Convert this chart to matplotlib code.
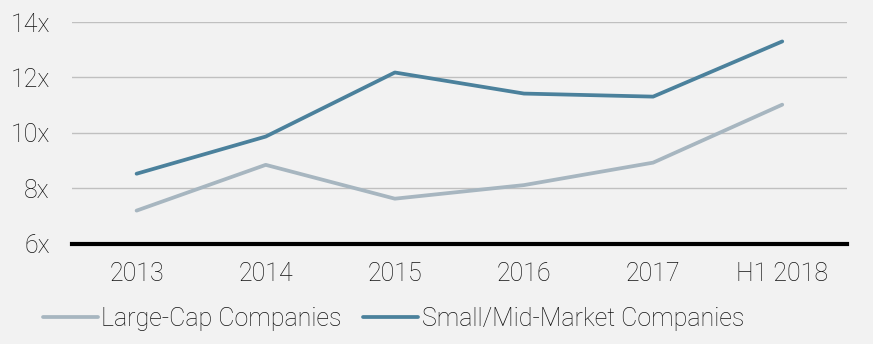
import matplotlib
matplotlib.use("Agg")
import matplotlib.pyplot as plt

# data
years = ["2013", "2014", "2015", "2016", "2017", "H1 2018"]
large_cap = [7.2, 8.85, 7.63, 8.12, 8.93, 11.02]
small_mid = [8.53, 9.87, 12.18, 11.42, 11.31, 13.3]
y_ticks = [6, 8, 10, 12, 14]

BG = "#f2f2f2"
FS = 18
plt.rcParams["font.family"] = ["Roboto", "DejaVu Sans"]

fig = plt.figure(figsize=(8.73, 3.44), dpi=100, facecolor=BG)
ax = fig.add_axes([0.0825, 0.291, 0.8875, 0.645], facecolor=BG)

x = range(len(years))
ax.plot(x, large_cap, color="#a7b6c0", lw=2.7, solid_capstyle="round",
        label="Large-Cap Companies", zorder=3)
ax.plot(x, small_mid, color="#4b819c", lw=2.7, solid_capstyle="round",
        label="Small/Mid-Market Companies", zorder=3)

ax.set_xlim(-0.5, len(years) - 0.5)
ax.set_ylim(6, 14)
ax.set_yticks(y_ticks)
ax.set_yticklabels([f"{v}x" for v in y_ticks])
ax.set_xticks(list(x))
ax.set_xticklabels(years)

ax.grid(axis="y", color="#c0c0c0", lw=1.0, zorder=0)
for s in ["top", "right", "left"]:
    ax.spines[s].set_visible(False)
ax.spines["bottom"].set_color("black")
ax.spines["bottom"].set_linewidth(3)
ax.spines["bottom"].set_zorder(4)
ax.tick_params(axis="both", length=0, labelsize=FS, colors="#111111")
ax.tick_params(axis="y", pad=16)
ax.tick_params(axis="x", pad=13)
for lab in ax.get_xticklabels() + ax.get_yticklabels():
    lab.set_fontweight("light")

leg = fig.legend(loc="center left", bbox_to_anchor=(0.023, 0.073), ncol=2,
                 frameon=False, handlelength=2.2, handletextpad=0.15,
                 columnspacing=0.85, prop={"size": FS, "weight": "light"})
for t in leg.get_texts():
    t.set_color("#111111")

fig.savefig("out.png", dpi=100, facecolor=BG)
